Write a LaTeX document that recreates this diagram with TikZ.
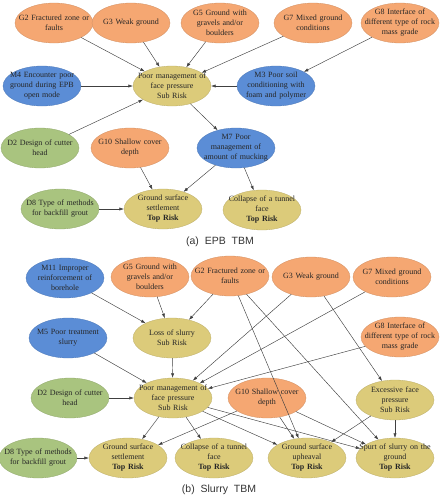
\documentclass[tikz,border=0pt]{standalone}
\usepackage{fontspec}
\setmainfont{Liberation Serif}
\newfontfamily\capfont{Liberation Sans}
\usetikzlibrary{arrows.meta, shapes.geometric}
\definecolor{geo}{HTML}{F5A772}
\definecolor{man}{HTML}{5B8DD6}
\definecolor{des}{HTML}{A9C47F}
\definecolor{risk}{HTML}{DCCB7A}
\definecolor{ink}{HTML}{262626}

\tikzset{
  factor/.style={ellipse, draw=#1!85!black, line width=0.3pt, fill=#1, text=ink,
    font=\fontsize{8}{10}\selectfont, align=center, text width=80pt,
    inner xsep=-13pt, inner ysep=0pt, minimum width=78pt, minimum height=40pt},
  gnode/.style={factor=geo},
  mnode/.style={factor=man},
  dnode/.style={factor=des},
  rnode/.style={factor=risk},
  link/.style={draw=black!75, line width=0.45pt, -{Latex[length=4.5pt,width=3.2pt]}},
  caption/.style={font=\capfont\fontsize{10.5}{12}\selectfont, text=black!80}
}

\begin{document}
\begin{tikzpicture}[x=1pt, y=-1pt]
  \useasboundingbox (0,0) rectangle (442,499);

  % (a) EPB TBM
  \node[gnode] (g2a)  at (54,23)  {G2 Fractured zone or\\faults};
  \node[gnode] (g3a)  at (131,23) {G3 Weak ground};
  \node[gnode] (g5a)  at (220,23) {G5 Ground with\\gravels and/or\\boulders};
  \node[gnode] (g7a)  at (313,23) {G7 Mixed ground\\conditions};
  \node[gnode] (g8a)  at (400,23) {G8 Interface of\\different type of rock\\mass grade};
  \node[mnode] (m4a)  at (42,86)  {M4 Encounter poor\\ground during EPB\\open mode};
  \node[rnode] (pma)  at (172,86) {Poor management of\\face pressure\\Sub Risk};
  \node[mnode] (m3a)  at (276,86) {M3 Poor soil\\conditioning with\\foam and polymer};
  \node[dnode] (d2a)  at (40,148) {D2 Design of cutter\\head};
  \node[gnode] (g10a) at (130,148) {G10 Shallow cover\\depth};
  \node[mnode] (m7a)  at (236,148) {M7 Poor\\management of\\amount of mucking};
  \node[dnode] (d8a)  at (60,209) {D8 Type of methods\\for backfill grout};
  \node[rnode] (gssa) at (163,209) {Ground surface\\settlement\\\textbf{Top Risk}};
  \node[rnode] (cola) at (262,210) {Collapse of a tunnel\\face\\\textbf{Top Risk}};
  \node[caption] (capa) at (220,242) {(a)~ EPB~ TBM};

  \foreach \src in {g2a, g3a, g5a, g7a, m4a, m3a, d2a}
    \draw[link] (\src) -- (pma);
  \draw[link] (g8a) -- (m3a);
  \draw[link] (pma) -- (m7a);
  \foreach \src in {g10a, m7a, d8a}
    \draw[link] (\src) -- (gssa);
  \draw[link] (m7a) -- (cola);

  % (b) Slurry TBM
  \node[mnode] (m11b) at (65,278)  {M11 Improper\\reinforcement of\\borehole};
  \node[gnode] (g5b)  at (150,277) {G5 Ground with\\gravels and/or\\boulders};
  \node[gnode] (g2b)  at (230,276) {G2 Fractured zone or\\faults};
  \node[gnode] (g3b)  at (311,277) {G3 Weak ground};
  \node[gnode] (g7b)  at (392,277) {G7 Mixed ground\\conditions};
  \node[mnode] (m5b)  at (68,338)  {M5 Poor treatment\\slurry};
  \node[rnode] (lossb) at (172,338) {Loss of slurry\\Sub Risk};
  \node[gnode] (g8b)  at (400,337) {G8 Interface of\\different type of rock\\mass grade};
  \node[dnode] (d2b)  at (70,398)  {D2 Design of cutter\\head};
  \node[rnode] (pmb)  at (173,398) {Poor management of\\face pressure\\Sub Risk};
  \node[gnode] (g10b) at (267,398) {G10 Shallow cover\\depth};
  \node[rnode] (exb)  at (395,400) {Excessive face\\pressure\\Sub Risk};
  \node[dnode] (d8b)  at (38,458)  {D8 Type of methods\\for backfill grout};
  \node[rnode] (gssb) at (128,458) {Ground surface\\settlement\\\textbf{Top Risk}};
  \node[rnode] (colb) at (214,458) {Collapse of a tunnel\\face\\\textbf{Top Risk}};
  \node[rnode] (gsub) at (307,458) {Ground surface\\upheaval\\\textbf{Top Risk}};
  \node[rnode] (spb)  at (395,458) {Spurt of slurry on the\\ground\\\textbf{Top Risk}};
  \node[caption] (capb) at (219,490) {(b)~ Slurry~ TBM};

  \foreach \src in {m11b, g5b, g2b}
    \draw[link] (\src) -- (lossb);
  \foreach \src in {lossb, m5b, g3b, g7b, g8b, d2b}
    \draw[link] (\src) -- (pmb);
  \draw[link] (g3b) -- (exb);
  \foreach \dst in {gssb, colb, gsub, spb}
    \draw[link] (pmb) -- (\dst);
  \foreach \dst in {gssb, gsub, spb}
    \draw[link] (g10b) -- (\dst);
  \foreach \dst in {gsub, spb}
    \draw[link] (g2b) -- (\dst);
  \foreach \dst in {gsub, spb}
    \draw[link] (exb) -- (\dst);
  \draw[link] (d8b) -- (gssb);
\end{tikzpicture}
\end{document}
